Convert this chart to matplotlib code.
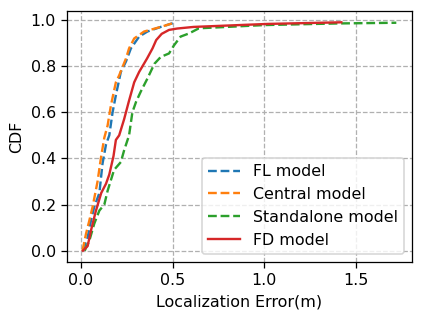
import numpy as np
import matplotlib.pyplot as plt

# CDF points (error in m, cumulative fraction)
fl_err = [0.01, 0.036, 0.054, 0.072, 0.10, 0.117, 0.136, 0.154, 0.172, 0.19, 0.217, 0.245, 0.272, 0.317, 0.362, 0.435, 0.50]
fl_cdf = [0.0, 0.058, 0.13, 0.19, 0.25, 0.377, 0.46, 0.50, 0.60, 0.674, 0.775, 0.82, 0.877, 0.928, 0.95, 0.97, 0.986]

central_err = [0.008, 0.027, 0.045, 0.063, 0.09, 0.109, 0.127, 0.145, 0.163, 0.19, 0.208, 0.245, 0.262, 0.29, 0.344, 0.435, 0.50]
central_cdf = [0.0, 0.073, 0.13, 0.19, 0.30, 0.405, 0.49, 0.543, 0.63, 0.73, 0.76, 0.833, 0.877, 0.92, 0.95, 0.97, 0.986]

standalone_err = [0.02, 0.045, 0.072, 0.10, 0.127, 0.145, 0.18, 0.217, 0.235, 0.262, 0.28, 0.30, 0.326, 0.362, 0.40,
                  0.435, 0.48, 0.507, 0.543, 0.59, 0.643, 1.0, 1.40, 1.72]
standalone_cdf = [0.0, 0.043, 0.117, 0.174, 0.20, 0.26, 0.35, 0.384, 0.435, 0.50, 0.60, 0.645, 0.69, 0.746, 0.81,
                  0.84, 0.855, 0.89, 0.928, 0.942, 0.964, 0.978, 0.985, 0.988]

fd_err = [0.01, 0.036, 0.054, 0.08, 0.11, 0.136, 0.154, 0.177, 0.19, 0.208, 0.235, 0.26, 0.29, 0.317, 0.36, 0.39,
          0.41, 0.44, 0.48, 0.525, 0.615, 1.02, 1.42]
fd_cdf = [0.0, 0.02, 0.087, 0.17, 0.25, 0.29, 0.33, 0.41, 0.48, 0.50, 0.57, 0.645, 0.73, 0.775, 0.833, 0.877,
          0.913, 0.94, 0.957, 0.963, 0.97, 0.983, 0.99]

# original looks like a smaller figure rendered at a higher dpi
dpi = 114
fig = plt.figure(figsize=(423 / dpi, 320 / dpi), dpi=dpi)
ax = fig.add_axes([0.158, 0.181, 0.816, 0.785])

ax.plot(fl_err, fl_cdf, '--', color='#1f77b4', label='FL model')
ax.plot(central_err, central_cdf, '--', color='#ff7f0e', label='Central model')
ax.plot(standalone_err, standalone_cdf, '--', color='#2ca02c', label='Standalone model')
ax.plot(fd_err, fd_cdf, '-', color='#d62728', label='FD model')

ax.grid(True, linestyle='--', color='#b0b0b0')
ax.set_xticks([0.0, 0.5, 1.0, 1.5])
ax.set_yticks([0.0, 0.2, 0.4, 0.6, 0.8, 1.0])
ax.set_xlabel('Localization Error(m)')
ax.set_ylabel('CDF')
ax.legend(loc='lower right')

fig.savefig('out.png', dpi=dpi)
